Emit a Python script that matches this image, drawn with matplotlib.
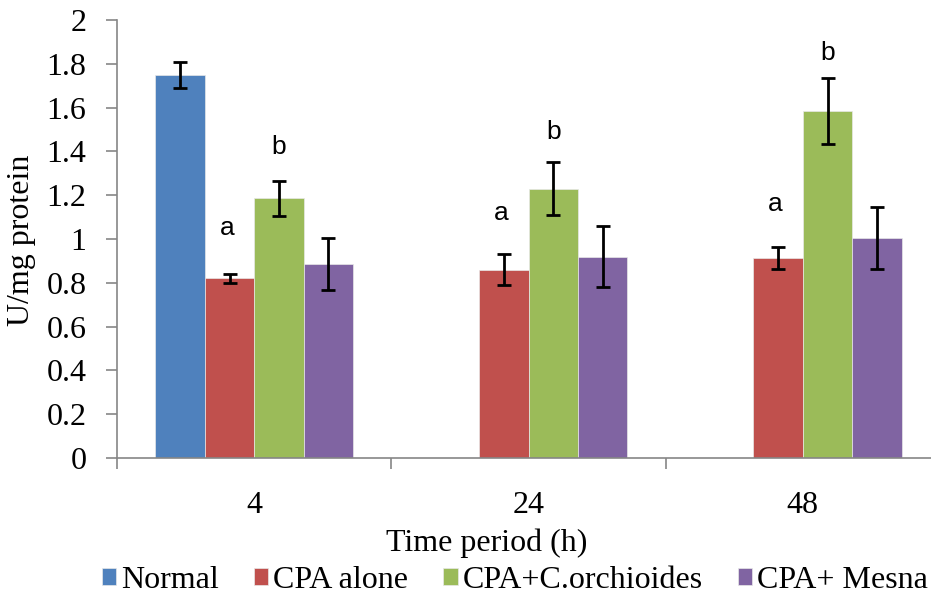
import matplotlib.pyplot as plt
import numpy as np

plt.rcParams['font.family'] = ['Liberation Serif', 'DejaVu Serif']

# data
time_labels = ['4', '24', '48']
series_names = ['Normal', 'CPA alone', 'CPA+C.orchioides', 'CPA+ Mesna']
colors = ['#4F81BD', '#C0504D', '#9BBB59', '#8064A2']

normal = [1.75, np.nan, np.nan]
normal_err = [0.06, 0, 0]
cpa = [0.82, 0.86, 0.915]
cpa_err = [0.02, 0.07, 0.05]
cpa_co = [1.185, 1.23, 1.585]
cpa_co_err = [0.08, 0.12, 0.15]
cpa_mesna = [0.885, 0.92, 1.005]
cpa_mesna_err = [0.12, 0.14, 0.14]

# significance letters (y = centre of letter)
a_y = [1.05, 1.12, 1.16]
b_y = [1.42, 1.49, 1.85]

values = [normal, cpa, cpa_co, cpa_mesna]
errors = [normal_err, cpa_err, cpa_co_err, cpa_mesna_err]

fig = plt.figure(figsize=(9.31, 5.98), dpi=100)
ax = fig.add_axes([0.1257, 0.2341, 0.884, 0.7325])

x = np.arange(len(time_labels))
w = 0.18
offsets = [-1.5, -0.5, 0.5, 1.5]
for vals, errs, col, name, off in zip(values, errors, colors, series_names, offsets):
    vals = np.array(vals, dtype=float)
    errs = np.array(errs, dtype=float)
    mask = ~np.isnan(vals)
    ax.bar(x[mask] + off * w, vals[mask], w, color=col, label=name,
           edgecolor='#e8e8e8', linewidth=0.5, zorder=2)
    ax.errorbar(x[mask] + off * w, vals[mask], yerr=errs[mask], fmt='none',
                ecolor='black', elinewidth=2, capsize=5, capthick=2, zorder=3)

for i in range(len(time_labels)):
    ax.text(x[i] - 0.5 * w - 0.01, a_y[i], 'a', family='Liberation Sans',
            fontsize=19, ha='center', va='center')
    ax.text(x[i] + 0.5 * w, b_y[i], 'b', family='Liberation Sans',
            fontsize=19, ha='center', va='center')

ax.set_xlim(-0.5, 2.5)
ax.set_ylim(0, 2)
ax.set_yticks(np.arange(0, 2.01, 0.2))
ax.set_yticklabels(['0', '0.2', '0.4', '0.6', '0.8', '1', '1.2', '1.4', '1.6', '1.8', '2'])
ax.set_xticks(x)
ax.set_xticklabels(time_labels)
ax.set_xticks([-0.5, 0.5, 1.5, 2.5], minor=True)
ax.tick_params(axis='x', which='major', length=0, labelsize=23, pad=24)
ax.tick_params(axis='x', which='minor', length=8, color='#868686', width=1.2)
ax.tick_params(axis='y', length=8, color='#868686', width=1.2, labelsize=23, pad=14)

for s in ['top', 'right']:
    ax.spines[s].set_visible(False)
for s in ['left', 'bottom']:
    ax.spines[s].set_color('#868686')
    ax.spines[s].set_linewidth(1.2)

fig.text(22 / 931, 1 - 240 / 598, 'U/mg protein', fontsize=23, rotation=90,
         ha='center', va='center')
fig.text(0.523, 0.092, 'Time period (h)', fontsize=23, ha='center', va='center')

handles, labels = ax.get_legend_handles_labels()
fig.legend(handles, labels, loc='center', bbox_to_anchor=(0.553, 0.03), ncol=4,
           frameon=False, fontsize=23, handlelength=0.45, handleheight=0.45,
           handletextpad=0.15, columnspacing=1.1, borderpad=0)

fig.savefig('out.png', dpi=100)
